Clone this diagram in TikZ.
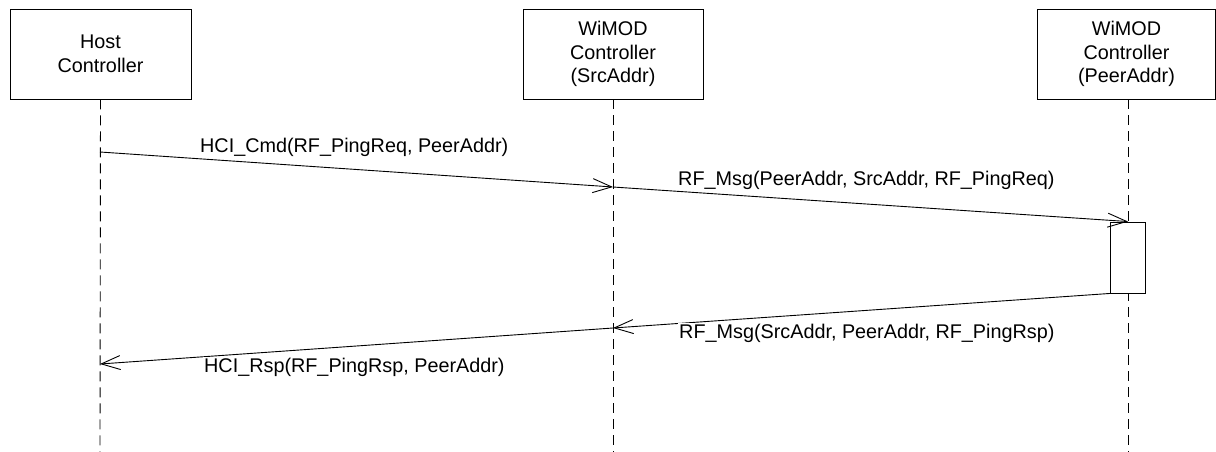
\documentclass[tikz,border=0pt]{standalone}
\usepackage{fontspec}
\setmainfont{Liberation Sans}
\usetikzlibrary{arrows.meta}
\begin{document}
\begin{tikzpicture}[x=1pt,y=-1pt,
  every node/.style={font=\fontsize{19.8}{23.5}\selectfont},
  actor/.style={draw, line width=0.9pt, fill=white, align=center, minimum height=90pt, inner sep=0pt},
  life/.style={line width=0.9pt, dash pattern=on 10pt off 6pt},
  msg/.style={line width=0.9pt, -{Straight Barb[length=19pt,width=14pt,line width=0.9pt]}},
  lbl/.style={fill=white, inner sep=1pt, anchor=base west},
  actbox/.style={draw, line width=0.9pt, fill=white, minimum width=35pt, minimum height=71pt, inner sep=0pt}]
\useasboundingbox (0,0) rectangle (1216,452);
\node[actor, minimum width=181pt] (host) at (100.5,54) {Host\\Controller};
\node[actor, minimum width=180pt] (src) at (613,54) {WiMOD\\Controller\\(SrcAddr)};
\node[actor, minimum width=178pt] (peer) at (1126.5,54) {WiMOD\\Controller\\(PeerAddr)};
\coordinate (hostend) at (100,452);
\coordinate (srcend) at (613,452);
\coordinate (peerend) at (1128,452);
\draw[life] (host.south) -- (hostend);
\draw[life] (src.south) -- (srcend);
\draw[life] (peer.south -| peerend) -- (peerend);
\node[actbox] (act) at (1128,257.5) {};
\coordinate (h1) at (100,152);
\coordinate (s1) at (613,187);
\coordinate (s2) at (613,328);
\coordinate (h2) at (100,364);
\draw[msg] (h1) -- (s1);
\draw[msg] (s1) -- (act.north);
\draw[msg] (act.south west) -- (s2);
\draw[msg] (s2) -- (h2);
\node[lbl] (l1) at (199,152) {HCI\_Cmd(RF\_PingReq, PeerAddr)};
\node[lbl] (l2) at (677,185) {RF\_Msg(PeerAddr, SrcAddr, RF\_PingReq)};
\node[lbl] (l3) at (678,338) {RF\_Msg(SrcAddr, PeerAddr, RF\_PingRsp)};
\node[lbl] (l4) at (203,372) {HCI\_Rsp(RF\_PingRsp, PeerAddr)};
\end{tikzpicture}
\end{document}
